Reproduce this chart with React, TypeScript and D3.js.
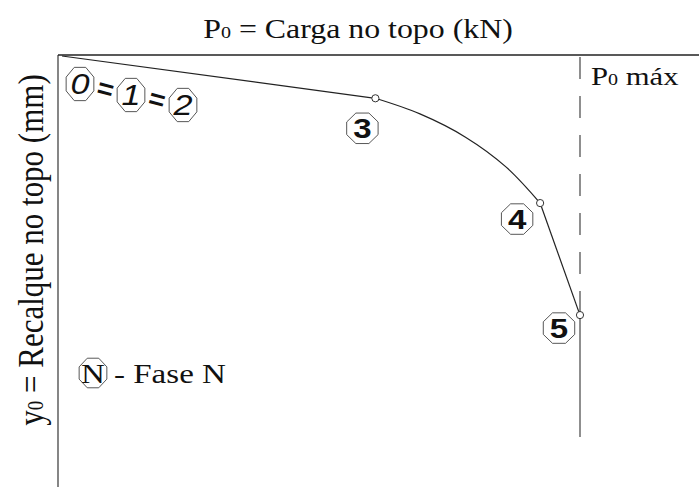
import React from "react";
import * as d3 from "d3";

// Load–settlement curve, normalised: load as a fraction of P0 máx, settlement as a fraction of the axis depth
const loadFrac = [0, 0.605, 0.691, 0.779, 0.857, 0.923, 1.0];
const settleFrac = [0, 0.111, 0.152, 0.213, 0.291, 0.386, 0.68];
// indices of the marked phase points (3, 4, 5) along the curve
const phaseIdx = [1, 5, 6];
const phaseLabels = ["3", "4", "5"];
const initialLabels = ["0", "1", "2"];

const W = 699;
const H = 487;
const SX = 1.18; // horizontal stretch of the lettering

function octagon(cx: number, cy: number, rx: number, ry: number) {
  const n = 8;
  const pts = d3.range(n).map((i) => {
    const a = (i / n) * Math.PI * 2 + Math.PI / 8;
    return [cx + rx * Math.cos(a), cy + ry * Math.sin(a)] as [number, number];
  });
  return "M" + pts.map((p) => p.join(",")).join("L") + "Z";
}

const serif = "'Liberation Serif', 'DejaVu Serif', serif";
const sans = "'Liberation Sans', Arial, sans-serif";

function Label({
  x,
  y,
  size,
  anchor = "start",
  family = serif,
  children,
  weight,
  italic,
}: {
  x: number;
  y: number;
  size: number;
  anchor?: string;
  family?: string;
  children: React.ReactNode;
  weight?: string;
  italic?: boolean;
}) {
  return (
    <text
      transform={`translate(${x},${y}) scale(${SX},1)`}
      textAnchor={anchor}
      fontFamily={family}
      fontSize={size}
      fontWeight={weight}
      fontStyle={italic ? "italic" : undefined}
      fill="#111"
    >
      {children}
    </text>
  );
}

export default function App() {
  const x = d3.scaleLinear().domain([0, 1]).range([62, 580]);
  const y = d3.scaleLinear().domain([0, 1]).range([56, 437]);

  const pts = loadFrac.map((p, i) => [x(p), y(settleFrac[i])] as [number, number]);
  const straight = d3.line().curve(d3.curveLinear);
  const smooth = d3.line().curve(d3.curveCatmullRom.alpha(0.5));

  const seg1 = straight(pts.slice(0, 2));
  const seg2 = smooth(pts.slice(1, 6));
  const seg3 = straight(pts.slice(5, 7));

  const pmaxX = x(1);

  // label centres relative to the marked points
  const phaseOffsets: [number, number][] = [
    [-13, 30],
    [-23, 16],
    [-21, 13],
  ];
  const initialCentres: [number, number][] = [
    [80, 84],
    [131, 95],
    [183, 105],
  ];

  return (
    <svg width={W} height={H} style={{ position: "absolute", left: 0, top: 0, background: "#fff" }}>
      <rect width={W} height={H} fill="#fff" />
      {/* title */}
      <Label x={358} y={38} size={27} anchor="middle">
        P<tspan fontSize={17}>0</tspan> = Carga no topo (kN)
      </Label>
      {/* y axis title */}
      <text
        transform={`translate(43,250) scale(${SX},1) rotate(-90)`}
        textAnchor="middle"
        fontFamily={serif}
        fontSize={31}
        fill="#111"
      >
        y<tspan fontSize={19}>0</tspan> = Recalque no topo (mm)
      </text>

      {/* axes frame: top and left */}
      <line x1={58} y1={55} x2={W} y2={55} stroke="#222" strokeWidth={1.3} />
      <line x1={58} y1={55} x2={58} y2={H} stroke="#222" strokeWidth={1.1} />

      {/* P0 máx limit */}
      <line
        x1={pmaxX}
        y1={57}
        x2={pmaxX}
        y2={297}
        stroke="#333"
        strokeWidth={1.1}
        strokeDasharray="22,17"
      />
      <line x1={pmaxX} y1={297} x2={pmaxX} y2={437} stroke="#333" strokeWidth={1.1} />
      <Label x={591} y={85} size={26}>
        P<tspan fontSize={17}>0</tspan> máx
      </Label>

      {/* curve */}
      <g fill="none" stroke="#222" strokeWidth={1.2}>
        <path d={seg1 ?? ""} />
        <path d={seg2 ?? ""} />
        <path d={seg3 ?? ""} />
      </g>
      {phaseIdx.map((i) => (
        <circle key={i} cx={pts[i][0]} cy={pts[i][1]} r={3.6} fill="#fff" stroke="#333" strokeWidth={1} />
      ))}

      {/* phases 0 = 1 = 2 */}
      {initialLabels.map((lab, k) => {
        const [cx, cy] = initialCentres[k];
        return (
          <g key={lab}>
            <path d={octagon(cx, cy, 15, 18)} fill="#fff" stroke="#444" strokeWidth={0.9} />
            <Label x={cx} y={cy + 10} size={29} anchor="middle" family={sans} italic>
              {lab}
            </Label>
          </g>
        );
      })}
      {[0, 1].map((k) => {
        const mx = (initialCentres[k][0] + initialCentres[k + 1][0]) / 2;
        const my = (initialCentres[k][1] + initialCentres[k + 1][1]) / 2;
        return (
          <text
            key={k}
            transform={`translate(${mx},${my}) rotate(15)`}
            textAnchor="middle"
            dy={9}
            fontFamily={sans}
            fontWeight="bold"
            fontSize={28}
            fill="#111"
          >
            =
          </text>
        );
      })}

      {/* phases 3, 4, 5 */}
      {phaseIdx.map((i, k) => {
        const cx = pts[i][0] + phaseOffsets[k][0];
        const cy = pts[i][1] + phaseOffsets[k][1];
        return (
          <g key={"p" + k}>
            <path d={octagon(cx, cy, 17, 16.5)} fill="#fff" stroke="#444" strokeWidth={0.9} />
            <Label x={cx} y={cy + 10} size={28} anchor="middle" family={sans} weight="bold">
              {phaseLabels[k]}
            </Label>
          </g>
        );
      })}

      {/* legend */}
      <path d={octagon(93, 373, 15, 16)} fill="#fff" stroke="#444" strokeWidth={0.9} />
      <Label x={93} y={383} size={28} anchor="middle">
        N
      </Label>
      <Label x={114} y={383} size={28}>
        - Fase N
      </Label>
    </svg>
  );
}
